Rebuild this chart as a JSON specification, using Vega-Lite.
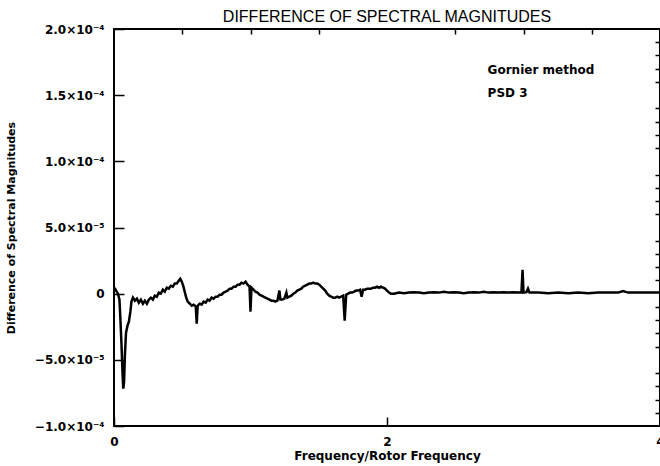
{
  "$schema": "https://vega.github.io/schema/vega-lite/v6.json",
  "width": 546,
  "height": 397,
  "autosize": {"type": "none"},
  "padding": {"left": 114, "top": 29, "right": 0, "bottom": 40},
  "background": "white",
  "title": {"text": "DIFFERENCE OF SPECTRAL MAGNITUDES", "font": "Liberation Sans", "fontSize": 16, "fontWeight": "normal", "anchor": "middle", "offset": -2, "color": "black"},
  "config": {
    "view": {"stroke": "black", "strokeWidth": 2},
    "axis": {"grid": false, "domain": false, "labelOverlap": false, "labelFlush": false}
  },
  "layer": [
    {
      "data": {"values": [
      {"f":0.004,"v":0.45e-5},{"f":0.015,"v":0.23e-5},{"f":0.029,"v":0},{"f":0.040,"v":-0.45e-5},{"f":0.047,"v":-1.96e-5},{"f":0.055,"v":-3.86e-5},{"f":0.062,"v":-5.90e-5},{"f":0.068,"v":-7.18e-5},{"f":0.074,"v":-6.65e-5},{"f":0.080,"v":-4.61e-5},{"f":0.088,"v":-2.95e-5},{"f":0.099,"v":-2.42e-5},{"f":0.109,"v":-2.12e-5},{"f":0.120,"v":-1.36e-5},{"f":0.128,"v":-0.60e-5},{"f":0.139,"v":-0.30e-5},{"f":0.153,"v":-0.53e-5},{"f":0.168,"v":-0.38e-5},{"f":0.182,"v":-0.68e-5},{"f":0.197,"v":-0.45e-5},{"f":0.212,"v":-0.76e-5},{"f":0.226,"v":-0.53e-5},{"f":0.241,"v":-0.76e-5},{"f":0.255,"v":-0.45e-5},{"f":0.270,"v":-0.30e-5},{"f":0.285,"v":-0.45e-5},{"f":0.299,"v":-0.15e-5},{"f":0.314,"v":-0.23e-5},{"f":0.328,"v":0.08e-5},{"f":0.343,"v":0},{"f":0.358,"v":0.30e-5},{"f":0.372,"v":0.15e-5},{"f":0.387,"v":0.45e-5},{"f":0.401,"v":0.38e-5},{"f":0.416,"v":0.60e-5},{"f":0.431,"v":0.53e-5},{"f":0.445,"v":0.76e-5},{"f":0.460,"v":0.76e-5},{"f":0.474,"v":0.98e-5},{"f":0.485,"v":1.13e-5},{"f":0.496,"v":0.91e-5},{"f":0.507,"v":0.60e-5},{"f":0.518,"v":0.15e-5},{"f":0.529,"v":-0.30e-5},{"f":0.540,"v":-0.60e-5},{"f":0.555,"v":-0.76e-5},{"f":0.569,"v":-0.91e-5},{"f":0.584,"v":-0.83e-5},{"f":0.599,"v":-0.98e-5},{"f":0.606,"v":-2.27e-5},{"f":0.613,"v":-0.91e-5},{"f":0.628,"v":-0.76e-5},{"f":0.642,"v":-0.83e-5},{"f":0.657,"v":-0.60e-5},{"f":0.672,"v":-0.68e-5},{"f":0.686,"v":-0.45e-5},{"f":0.701,"v":-0.53e-5},{"f":0.715,"v":-0.30e-5},{"f":0.730,"v":-0.38e-5},{"f":0.745,"v":-0.23e-5},{"f":0.759,"v":-0.23e-5},{"f":0.774,"v":-0.08e-5},{"f":0.788,"v":-0.08e-5},{"f":0.803,"v":0.08e-5},{"f":0.818,"v":0.15e-5},{"f":0.832,"v":0.23e-5},{"f":0.847,"v":0.38e-5},{"f":0.861,"v":0.38e-5},{"f":0.876,"v":0.53e-5},{"f":0.891,"v":0.53e-5},{"f":0.905,"v":0.68e-5},{"f":0.920,"v":0.68e-5},{"f":0.934,"v":0.83e-5},{"f":0.949,"v":0.76e-5},{"f":0.964,"v":0.91e-5},{"f":0.978,"v":0.68e-5},{"f":0.993,"v":0.53e-5},{"f":1.000,"v":-1.36e-5},{"f":1.007,"v":0.45e-5},{"f":1.022,"v":0.30e-5},{"f":1.036,"v":0.15e-5},{"f":1.051,"v":0.08e-5},{"f":1.066,"v":-0.08e-5},{"f":1.080,"v":-0.15e-5},{"f":1.095,"v":-0.23e-5},{"f":1.109,"v":-0.30e-5},{"f":1.124,"v":-0.38e-5},{"f":1.139,"v":-0.45e-5},{"f":1.153,"v":-0.53e-5},{"f":1.168,"v":-0.53e-5},{"f":1.182,"v":-0.60e-5},{"f":1.197,"v":-0.53e-5},{"f":1.212,"v":0.23e-5},{"f":1.219,"v":-0.45e-5},{"f":1.234,"v":-0.45e-5},{"f":1.248,"v":-0.38e-5},{"f":1.263,"v":0.08e-5},{"f":1.270,"v":-0.30e-5},{"f":1.285,"v":-0.23e-5},{"f":1.299,"v":-0.15e-5},{"f":1.314,"v":0},{"f":1.328,"v":0.08e-5},{"f":1.343,"v":0.23e-5},{"f":1.358,"v":0.30e-5},{"f":1.372,"v":0.38e-5},{"f":1.387,"v":0.53e-5},{"f":1.401,"v":0.60e-5},{"f":1.416,"v":0.68e-5},{"f":1.431,"v":0.76e-5},{"f":1.445,"v":0.76e-5},{"f":1.460,"v":0.83e-5},{"f":1.474,"v":0.76e-5},{"f":1.489,"v":0.76e-5},{"f":1.504,"v":0.68e-5},{"f":1.518,"v":0.53e-5},{"f":1.533,"v":0.38e-5},{"f":1.547,"v":0.23e-5},{"f":1.562,"v":0},{"f":1.577,"v":-0.15e-5},{"f":1.591,"v":-0.23e-5},{"f":1.606,"v":-0.30e-5},{"f":1.620,"v":-0.30e-5},{"f":1.635,"v":-0.23e-5},{"f":1.650,"v":-0.30e-5},{"f":1.664,"v":-0.23e-5},{"f":1.679,"v":-0.15e-5},{"f":1.690,"v":-2.04e-5},{"f":1.701,"v":-0.08e-5},{"f":1.715,"v":0},{"f":1.730,"v":0.08e-5},{"f":1.745,"v":0.08e-5},{"f":1.759,"v":0.15e-5},{"f":1.774,"v":0.23e-5},{"f":1.788,"v":0.23e-5},{"f":1.803,"v":0.30e-5},{"f":1.814,"v":-0.23e-5},{"f":1.825,"v":0.30e-5},{"f":1.839,"v":0.30e-5},{"f":1.854,"v":0.38e-5},{"f":1.869,"v":0.38e-5},{"f":1.883,"v":0.38e-5},{"f":1.898,"v":0.45e-5},{"f":1.912,"v":0.45e-5},{"f":1.927,"v":0.53e-5},{"f":1.942,"v":0.45e-5},{"f":1.956,"v":0.53e-5},{"f":1.971,"v":0.45e-5},{"f":1.985,"v":0.38e-5},{"f":2.000,"v":0.23e-5},{"f":2.015,"v":0.08e-5},{"f":2.029,"v":0},{"f":2.051,"v":0},{"f":2.088,"v":0.08e-5},{"f":2.124,"v":0.04e-5},{"f":2.161,"v":0.08e-5},{"f":2.197,"v":0.11e-5},{"f":2.234,"v":0.08e-5},{"f":2.270,"v":0.04e-5},{"f":2.307,"v":0.08e-5},{"f":2.343,"v":0.11e-5},{"f":2.380,"v":0.08e-5},{"f":2.416,"v":0.15e-5},{"f":2.453,"v":0.08e-5},{"f":2.489,"v":0.11e-5},{"f":2.526,"v":0.08e-5},{"f":2.562,"v":0.04e-5},{"f":2.599,"v":0.08e-5},{"f":2.635,"v":0.11e-5},{"f":2.672,"v":0.08e-5},{"f":2.708,"v":0.15e-5},{"f":2.745,"v":0.08e-5},{"f":2.781,"v":0.11e-5},{"f":2.818,"v":0.08e-5},{"f":2.854,"v":0.11e-5},{"f":2.891,"v":0.08e-5},{"f":2.927,"v":0.11e-5},{"f":2.964,"v":0.08e-5},{"f":2.985,"v":0.08e-5},{"f":2.993,"v":1.81e-5},{"f":3.000,"v":0.08e-5},{"f":3.022,"v":0.11e-5},{"f":3.033,"v":0.38e-5},{"f":3.044,"v":0.08e-5},{"f":3.109,"v":0.08e-5},{"f":3.182,"v":0.04e-5},{"f":3.255,"v":0.08e-5},{"f":3.328,"v":0.04e-5},{"f":3.401,"v":0.08e-5},{"f":3.474,"v":0.04e-5},{"f":3.547,"v":0.08e-5},{"f":3.620,"v":0.08e-5},{"f":3.693,"v":0.08e-5},{"f":3.730,"v":0.19e-5},{"f":3.766,"v":0.08e-5},{"f":3.839,"v":0.08e-5},{"f":3.912,"v":0.08e-5},{"f":4.000,"v":0.08e-5}
      ]},
      "mark": {"type": "line", "color": "black", "strokeWidth": 2.5},
      "encoding": {
        "x": {"field": "f", "type": "quantitative", "scale": {"domain": [0, 4], "nice": false, "zero": false},
          "axis": {"orient": "bottom", "values": [0, 2, 4], "format": "d", "ticks": true, "tickSize": -9, "tickColor": "black", "tickWidth": 1.5,
            "labelFont": "DejaVu Sans", "labelFontWeight": "bold", "labelColor": "black", "labelFontSize": 12, "labelPadding": 19,
            "title": "Frequency/Rotor Frequency", "titleFont": "DejaVu Sans", "titleFontWeight": "bold", "titleColor": "black", "titleFontSize": 12, "titlePadding": 3}},
        "y": {"field": "v", "type": "quantitative", "scale": {"domain": [-0.0001, 0.0002], "nice": false, "zero": false},
          "axis": {"orient": "left", "values": [-0.0001, -0.00005, 0, 0.00005, 0.0001, 0.00015, 0.0002], "ticks": true, "tickSize": -10, "tickColor": "black", "tickWidth": 1.5,
            "labelFont": "DejaVu Sans", "labelFontWeight": "bold", "labelColor": "black", "labelFontSize": 12, "labelPadding": 20,
            "labelExpr": "datum.value > 1.9e-4 ? '2.0×10⁻⁴' : datum.value > 1.4e-4 ? '1.5×10⁻⁴' : datum.value > 0.9e-4 ? '1.0×10⁻⁴' : datum.value > 4e-5 ? '5.0×10⁻⁵' : datum.value > -1e-5 ? '0' : datum.value > -6e-5 ? '−5.0×10⁻⁵' : '−1.0×10⁻⁴'",
            "title": "Difference of Spectral Magnitudes", "titleFont": "DejaVu Sans", "titleFontWeight": "bold", "titleColor": "black", "titleFontSize": 11, "titlePadding": 18}}
      }
    },
    {
      "data": {"values": [
        {"x": 2.737, "y": 1.69e-4, "label": "Gornier method"},
        {"x": 2.737, "y": 1.52e-4, "label": "PSD 3"}
      ]},
      "mark": {"type": "text", "align": "left", "baseline": "middle", "font": "DejaVu Sans", "fontSize": 12, "fontWeight": "bold", "color": "black"},
      "encoding": {
        "x": {"field": "x", "type": "quantitative", "scale": {"domain": [0, 4], "nice": false, "zero": false},
          "axis": {"orient": "top", "values": [0.5, 1, 1.5, 2.5, 3, 3.5], "labels": false, "ticks": true, "tickSize": -5, "tickColor": "black", "tickWidth": 1.5, "title": null}},
        "y": {"field": "y", "type": "quantitative", "scale": {"domain": [-0.0001, 0.0002], "nice": false, "zero": false},
          "axis": {"orient": "right", "values": [-9e-5, -8e-5, -7e-5, -6e-5, -4e-5, -3e-5, -2e-5, -1e-5, 1e-5, 2e-5, 3e-5, 4e-5, 6e-5, 7e-5, 8e-5, 9e-5, 1.1e-4, 1.2e-4, 1.3e-4, 1.4e-4, 1.6e-4, 1.7e-4, 1.8e-4, 1.9e-4], "labels": false, "ticks": true, "tickSize": -5, "tickColor": "black", "tickWidth": 1.5, "title": null}},
        "text": {"field": "label"}
      }
    }
  ],
  "resolve": {"axis": {"x": "independent", "y": "independent"}}
}
